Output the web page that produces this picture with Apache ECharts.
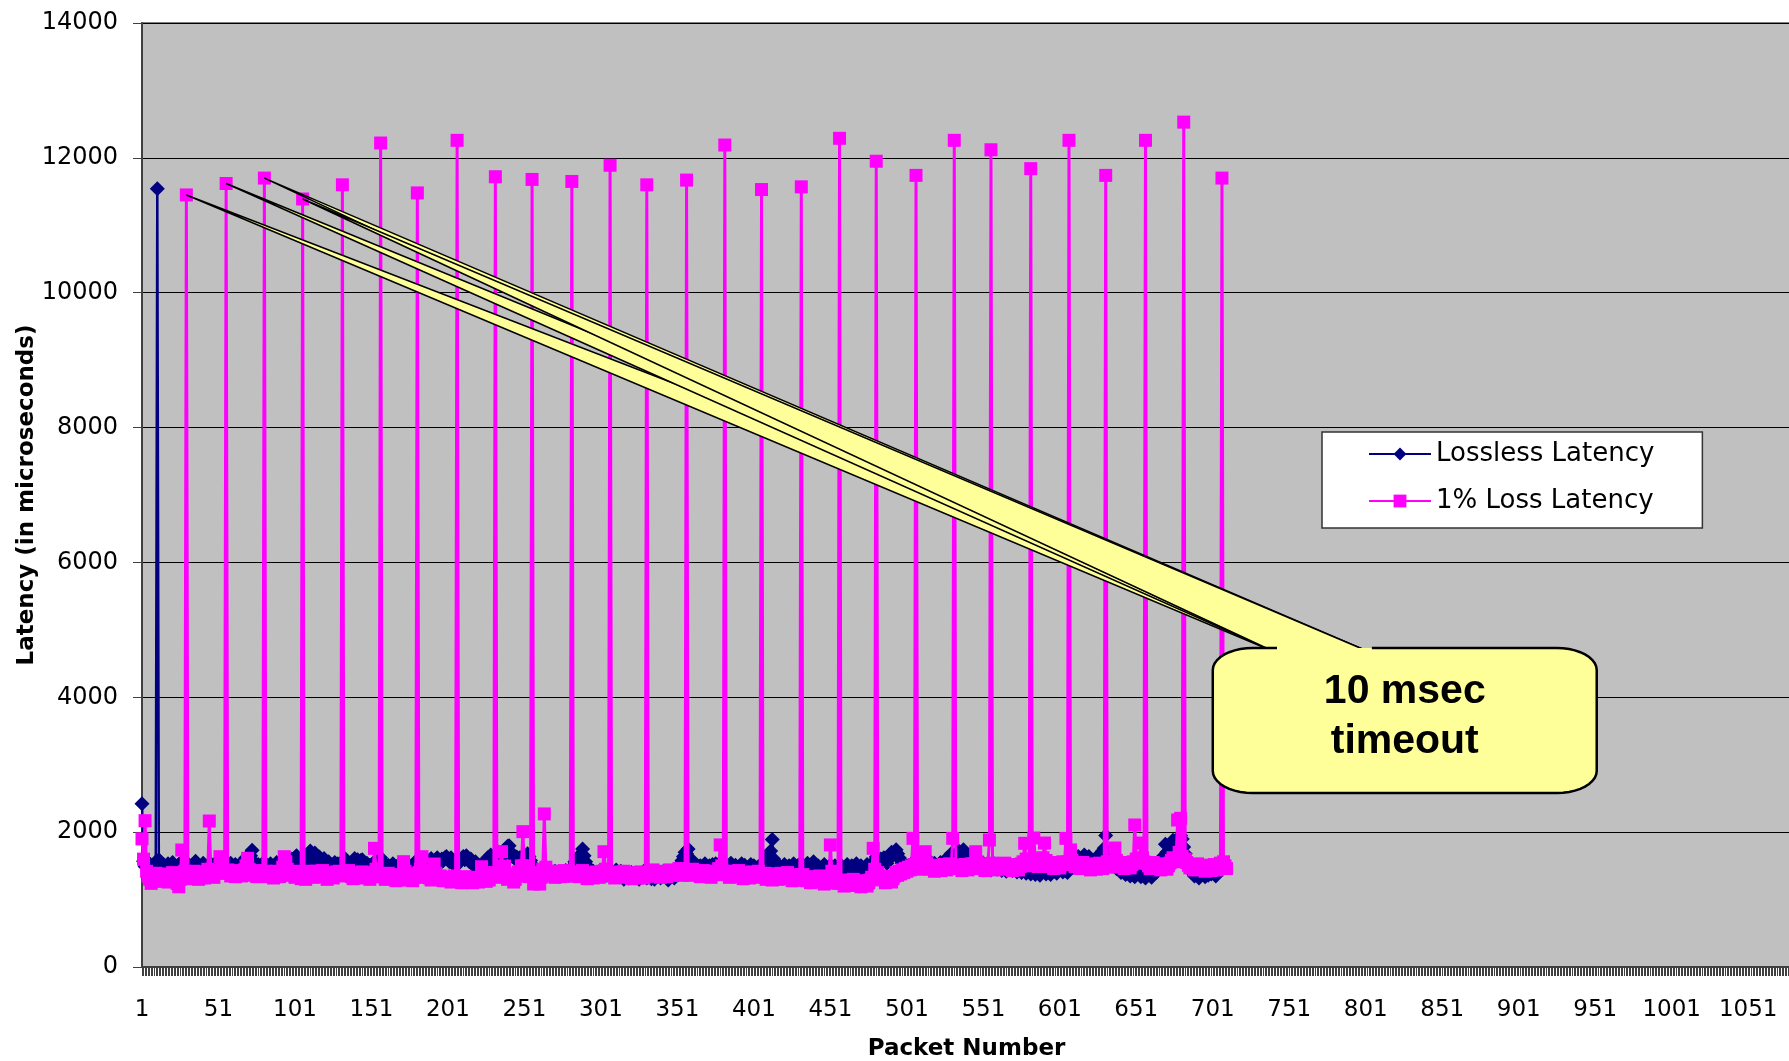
<!DOCTYPE html>
<html>
<head>
<meta charset="utf-8">
<title>Packet Latency</title>
<script src="https://cdn.jsdelivr.net/npm/echarts@6/dist/echarts.min.js"></script>
<style>
  html, body { margin: 0; padding: 0; background: #ffffff; }
  #chart { width: 1789px; height: 1061px; }
</style>
</head>
<body>
<div id="chart"></div>
<script>
// Category axis: packet numbers 1..1079 (labels shown every 50 packets)
const PACKET_SLOTS = 1079;
const packetNumbers = Array.from({ length: PACKET_SLOTS }, (_, i) => String(i + 1));

// Value axis ticks (microseconds)
const latencyTicks = [0, 2000, 4000, 6000, 8000, 10000, 12000, 14000];

const seriesNames = ['Lossless Latency', '1% Loss Latency'];

// Lossless Latency, packets 1..706 (microseconds)
const losslessLatency = [
  2420, 1570, 1490, 1520, 1460, 1530, 1480, 1450, 1510, 1560, 11540, 1590, 1500, 1470, 1520, 1440, 1480, 1530, 1460, 1500, 1550, 1470, 1430, 1490, 1520,
  1480, 1560, 1510, 1450, 1470, 1530, 1500, 1440, 1480, 1520, 1570, 1490, 1460, 1430, 1500, 1540, 1480, 1450, 1510, 1470, 1530, 1490, 1440, 1500, 1560,
  1480, 1520, 1460, 1490, 1530, 1450, 1500, 1470, 1540, 1490, 1460, 1520, 1480, 1440, 1510, 1550, 1470, 1500, 1620, 1530, 1480, 1650, 1730, 1560, 1490,
  1470, 1520, 1460, 1500, 1540, 1480, 1450, 1510, 1470, 1530, 1490, 1460, 1500, 1550, 1480, 1440, 1510, 1470, 1580, 1520, 1490, 1460, 1530, 1600, 1560,
  1620, 1650, 1580, 1530, 1490, 1560, 1600, 1540, 1620, 1680, 1720, 1640, 1580, 1690, 1610, 1550, 1630, 1590, 1570, 1610, 1540, 1500, 1560, 1520, 1480,
  1510, 1550, 1490, 1530, 1470, 1520, 1560, 1590, 1600, 1540, 1500, 1480, 1520, 1570, 1610, 1550, 1590, 1530, 1580, 1590, 1520, 1490, 1540, 1470, 1510,
  1480, 1530, 1560, 1500, 1540, 1590, 1620, 1570, 1520, 1480, 1460, 1510, 1450, 1490, 1530, 1470, 1440, 1500, 1460, 1430, 1480, 1520, 1450, 1410, 1470,
  1500, 1440, 1480, 1520, 1460, 1590, 1560, 1500, 1470, 1430, 1490, 1450, 1520, 1570, 1610, 1560, 1500, 1590, 1620, 1570, 1540, 1600, 1580, 1620, 1640,
  1600, 1560, 1620, 1580, 1530, 1490, 1550, 1600, 1570, 1610, 1640, 1590, 1650, 1620, 1560, 1600, 1540, 1500, 1560, 1520, 1480, 1510, 1470, 1500, 1540,
  1580, 1620, 1600, 1660, 1590, 1550, 1610, 1640, 1700, 1660, 1620, 1680, 1740, 1710, 1790, 1800, 1690, 1640, 1660, 1600, 1630, 1590, 1620, 1580, 1650,
  1620, 1600, 1680, 1640, 1580, 1520, 1470, 1420, 1380, 1400, 1360, 1390, 1350, 1410, 1380, 1430, 1370, 1400, 1360, 1390, 1420, 1380, 1350, 1400, 1370,
  1410, 1380, 1430, 1390, 1360, 1400, 1450, 1500, 1560, 1600, 1540, 1620, 1680, 1750, 1650, 1560, 1500, 1440, 1410, 1380, 1420, 1390, 1350, 1380, 1420,
  1400, 1370, 1430, 1390, 1360, 1410, 1380, 1420, 1350, 1390, 1440, 1400, 1370, 1420, 1380, 1300, 1340, 1380, 1320, 1360, 1400, 1370, 1330, 1390, 1350,
  1300, 1340, 1380, 1420, 1360, 1320, 1390, 1350, 1310, 1370, 1300, 1340, 1390, 1360, 1320, 1380, 1420, 1370, 1330, 1290, 1350, 1400, 1360, 1320, 1380,
  1420, 1470, 1530, 1580, 1640, 1700, 1680, 1750, 1620, 1560, 1500, 1540, 1480, 1510, 1470, 1500, 1450, 1490, 1530, 1480, 1440, 1500, 1460, 1520, 1490,
  1530, 1480, 1510, 1550, 1500, 1470, 1520, 1480, 1450, 1500, 1540, 1490, 1460, 1510, 1480, 1440, 1500, 1530, 1470, 1510, 1480, 1450, 1490, 1520, 1470,
  1500, 1460, 1430, 1490, 1450, 1410, 1470, 1520, 1560, 1610, 1660, 1720, 1890, 1600, 1540, 1500, 1460, 1490, 1450, 1480, 1520, 1470, 1440, 1500, 1460,
  1490, 1530, 1480, 1450, 1510, 1470, 1430, 1490, 1460, 1500, 1540, 1480, 1450, 1510, 1560, 1520, 1470, 1500, 1460, 1430, 1490, 1520, 1470, 1440, 1480,
  1510, 1470, 1440, 1500, 1460, 1420, 1480, 1510, 1470, 1430, 1490, 1520, 1480, 1450, 1500, 1460, 1490, 1530, 1480, 1450, 1500, 1460, 1420, 1480, 1520,
  1470, 1440, 1500, 1540, 1580, 1630, 1590, 1550, 1600, 1560, 1620, 1580, 1540, 1600, 1650, 1700, 1660, 1690, 1740, 1680, 1620, 1580, 1540, 1500, 1470,
  1500, 1460, 1490, 1530, 1480, 1510, 1470, 1500, 1540, 1490, 1520, 1560, 1510, 1480, 1530, 1570, 1520, 1490, 1540, 1500, 1470, 1520, 1550, 1500, 1530,
  1570, 1610, 1560, 1620, 1680, 1640, 1590, 1630, 1680, 1720, 1660, 1700, 1740, 1690, 1640, 1600, 1560, 1520, 1560, 1510, 1480, 1530, 1500, 1460, 1510,
  1540, 1490, 1460, 1510, 1470, 1440, 1500, 1530, 1480, 1450, 1510, 1470, 1430, 1490, 1460, 1420, 1480, 1510, 1460, 1430, 1490, 1450, 1410, 1470, 1440,
  1400, 1460, 1430, 1390, 1450, 1420, 1380, 1440, 1410, 1370, 1430, 1400, 1360, 1420, 1450, 1410, 1380, 1440, 1400, 1370, 1430, 1460, 1420, 1390, 1450,
  1480, 1440, 1410, 1470, 1430, 1400, 1460, 1500, 1540, 1580, 1620, 1590, 1640, 1600, 1560, 1620, 1660, 1610, 1580, 1640, 1600, 1560, 1520, 1560, 1610,
  1650, 1600, 1680, 1720, 1760, 1950, 1700, 1660, 1620, 1580, 1540, 1500, 1460, 1490, 1440, 1400, 1450, 1410, 1370, 1430, 1390, 1350, 1410, 1380, 1340,
  1390, 1430, 1380, 1340, 1400, 1360, 1320, 1380, 1420, 1370, 1330, 1390, 1440, 1400, 1450, 1500, 1550, 1600, 1650, 1820, 1700, 1660, 1720, 1780, 1880,
  1830, 1780, 1860, 1920, 1950, 1900, 1780, 1680, 1600, 1540, 1480, 1430, 1390, 1350, 1400, 1360, 1320, 1380, 1420, 1370, 1340, 1400, 1360, 1420, 1380,
  1440, 1390, 1350, 1410, 1470, 1520
];

// 1% Loss Latency, packets 1..710 (microseconds); tall values are retransmissions after the timeout
const lossLatency = [
  1900, 1600, 2170, 1420, 1350, 1300, 1240, 1280, 1330, 1390, 1350, 1300, 1270, 1320, 1380, 1340, 1290, 1260, 1310, 1360, 1400, 1330, 1280, 1240, 1190,
  1300, 1735, 1380, 1420, 11450, 1400, 1350, 1310, 1370, 1420, 1380, 1330, 1300, 1360, 1410, 1370, 1320, 1380, 1450, 2165, 1430, 1370, 1330, 1390, 1440,
  1400, 1636, 1450, 1390, 1420, 11620, 1440, 1390, 1350, 1410, 1380, 1340, 1390, 1430, 1380, 1350, 1400, 1440, 1500, 1612, 1450, 1390, 1360, 1410, 1370,
  1340, 1390, 1430, 1370, 1400, 11700, 1420, 1370, 1340, 1390, 1360, 1320, 1380, 1420, 1370, 1340, 1400, 1480, 1636, 1560, 1450, 1400, 1360, 1410, 1370,
  1330, 1380, 1420, 1360, 1310, 11390, 1350, 1300, 1340, 1390, 1420, 1370, 1330, 1380, 1420, 1370, 1340, 1390, 1430, 1380, 1340, 1300, 1360, 1400, 1350,
  1320, 1370, 1410, 1360, 1420, 1380, 11600, 1400, 1350, 1390, 1430, 1380, 1340, 1310, 1360, 1400, 1350, 1320, 1370, 1410, 1360, 1330, 1380, 1340, 1300,
  1350, 1400, 1760, 1450, 1380, 1340, 12220, 1380, 1340, 1300, 1350, 1390, 1340, 1310, 1360, 1320, 1280, 1330, 1370, 1320, 1290, 1562, 1420, 1350, 1310,
  1360, 1320, 1280, 1330, 1380, 11480, 1400, 1450, 1636, 1440, 1380, 1330, 1370, 1320, 1290, 1340, 1527, 1390, 1340, 1300, 1350, 1310, 1280, 1320, 1290,
  1330, 1290, 1260, 1310, 1350, 1300, 12260, 1320, 1280, 1250, 1300, 1340, 1290, 1260, 1310, 1280, 1250, 1300, 1330, 1290, 1260, 1310, 1487, 1350, 1300,
  1270, 1320, 1290, 1350, 1400, 1360, 11720, 1390, 1330, 1450, 1710, 1480, 1497, 1350, 1300, 1330, 1380, 1340, 1260, 1300, 1350, 1410, 1380, 1500, 2007,
  1500, 1420, 1380, 1340, 1390, 11680, 1231, 1350, 1400, 1370, 1230, 1330, 1450, 2270, 1480, 1420, 1380, 1350, 1400, 1370, 1330, 1380, 1420, 1370, 1340,
  1390, 1430, 1380, 1350, 1400, 1370, 11650, 1390, 1350, 1410, 1380, 1340, 1390, 1430, 1380, 1350, 1310, 1360, 1400, 1350, 1320, 1370, 1410, 1360, 1330,
  1380, 1420, 1710, 1450, 1390, 1360, 11890, 1400, 1360, 1320, 1370, 1410, 1360, 1330, 1380, 1420, 1370, 1340, 1390, 1350, 1310, 1360, 1400, 1350, 1320,
  1370, 1410, 1360, 1320, 1380, 11600, 1390, 1350, 1400, 1440, 1390, 1350, 1410, 1370, 1330, 1380, 1420, 1370, 1340, 1390, 1440, 1400, 1360, 1410, 1370,
  1420, 1460, 1400, 1360, 1410, 1380, 11670, 1400, 1360, 1410, 1450, 1400, 1370, 1420, 1380, 1340, 1390, 1430, 1380, 1350, 1400, 1370, 1330, 1380, 1420,
  1370, 1410, 1460, 1810, 1500, 1420, 12190, 1410, 1370, 1330, 1380, 1420, 1370, 1340, 1390, 1430, 1380, 1350, 1310, 1360, 1400, 1350, 1320, 1370, 1410,
  1360, 1330, 1380, 1420, 1370, 11530, 1390, 1350, 1300, 1340, 1380, 1330, 1290, 1340, 1380, 1330, 1300, 1350, 1390, 1340, 1310, 1360, 1400, 1350, 1320,
  1280, 1330, 1370, 1320, 1290, 1340, 11570, 1370, 1320, 1280, 1330, 1290, 1250, 1300, 1340, 1290, 1260, 1310, 1350, 1300, 1270, 1230, 1280, 1320, 1270,
  1810, 1420, 1300, 1250, 1290, 1240, 12290, 1280, 1240, 1200, 1250, 1290, 1240, 1210, 1260, 1300, 1250, 1220, 1270, 1230, 1190, 1240, 1280, 1230, 1200,
  1250, 1290, 1330, 1760, 1450, 11950, 1400, 1350, 1300, 1340, 1290, 1250, 1300, 1340, 1290, 1260, 1310, 1350, 1400, 1360, 1420, 1380, 1440, 1400, 1460,
  1420, 1480, 1440, 1500, 1908, 1520, 11740, 1480, 1450, 1500, 1460, 1520, 1710, 1540, 1490, 1450, 1500, 1460, 1420, 1470, 1510, 1470, 1430, 1480, 1520,
  1480, 1440, 1490, 1530, 1490, 1908, 12260, 1500, 1460, 1510, 1470, 1430, 1480, 1520, 1480, 1440, 1490, 1530, 1490, 1530, 1710, 1560, 1500, 1460, 1510,
  1470, 1430, 1490, 1530, 1884, 12120, 1540, 1480, 1440, 1490, 1530, 1490, 1450, 1500, 1540, 1500, 1460, 1510, 1470, 1430, 1480, 1520, 1480, 1440, 1490,
  1530, 1560, 1834, 1600, 1540, 1500, 11840, 1550, 1913, 1600, 1540, 1490, 1530, 1570, 1620, 1838, 1580, 1530, 1490, 1540, 1500, 1460, 1510, 1550, 1510,
  1470, 1520, 1560, 1520, 1908, 1560, 12260, 1736, 1580, 1530, 1490, 1540, 1500, 1460, 1510, 1550, 1510, 1470, 1520, 1480, 1440, 1490, 1530, 1490, 1450,
  1500, 1540, 1500, 1460, 1510, 11740, 1560, 1520, 1480, 1530, 1570, 1765, 1580, 1530, 1490, 1540, 1500, 1460, 1510, 1550, 1510, 1470, 1520, 1560, 2106,
  1600, 1540, 1580, 1838, 1620, 1560, 12260, 1540, 1500, 1460, 1510, 1550, 1510, 1470, 1520, 1480, 1440, 1490, 1530, 1490, 1450, 1500, 1540, 1580, 1620,
  1560, 1600, 2180, 1700, 2205, 1640, 12530, 1600, 1550, 1510, 1470, 1520, 1480, 1440, 1490, 1530, 1490, 1450, 1500, 1460, 1420, 1470, 1510, 1470, 1430,
  1480, 1520, 1480, 1440, 1490, 1540, 11700, 1560, 1500, 1460
];

// Packets whose timeout spikes the callout points at
const calloutPackets = [30, 56, 81, 106];
const calloutLines = ['10 msec', 'timeout'];

const chart = echarts.init(document.getElementById('chart'), null, { renderer: 'canvas' });

const axisFont = 'DejaVu Sans';

chart.setOption({
  animation: false,
  backgroundColor: '#ffffff',
  grid: {
    left: 142, top: 23, right: -2, bottom: 94,
    outerBoundsMode: 'none',
    containLabel: false,
    show: true,
    backgroundColor: '#c0c0c0',
    borderColor: '#808080',
    borderWidth: 2
  },
  legend: {
    data: seriesNames,
    orient: 'vertical',
    left: 1322, top: 432,
    backgroundColor: '#ffffff',
    borderColor: '#333333',
    borderWidth: 1.5,
    borderRadius: 0,
    padding: [9, 48, 14, 46],
    itemGap: 21,
    itemWidth: 62,
    itemHeight: 16,
    lineStyle: { width: 2 },
    textStyle: { fontFamily: axisFont, fontSize: 26, color: '#000000' }
  },
  xAxis: {
    type: 'category',
    data: packetNumbers,
    boundaryGap: false,
    name: 'Packet Number',
    nameLocation: 'middle',
    nameGap: 71,
    nameMoveOverlap: false,
    nameTextStyle: { fontFamily: axisFont, fontSize: 23, fontWeight: 'bold', color: '#000000' },
    axisLine: { show: true, lineStyle: { color: '#404040', width: 2 } },
    axisTick: { show: true, interval: 0, length: 9, lineStyle: { color: '#404040', width: 1 } },
    axisLabel: {
      interval: 49, margin: 32, hideOverlap: false,
      fontFamily: axisFont, fontSize: 23, color: '#000000'
    },
    splitLine: { show: false }
  },
  yAxis: {
    type: 'value',
    min: latencyTicks[0],
    max: latencyTicks[latencyTicks.length - 1],
    interval: latencyTicks[1] - latencyTicks[0],
    name: 'Latency (in microseconds)',
    nameLocation: 'middle',
    nameRotate: 90,
    nameGap: 103,
    nameMoveOverlap: false,
    nameTextStyle: { fontFamily: axisFont, fontSize: 23, fontWeight: 'bold', color: '#000000' },
    axisLine: { show: true, lineStyle: { color: '#404040', width: 2 } },
    axisTick: { show: true, length: 9, lineStyle: { color: '#404040', width: 1 } },
    axisLabel: {
      margin: 24, fontFamily: axisFont, fontSize: 24, color: '#000000',
      formatter: (v) => String(v)
    },
    splitLine: { show: true, lineStyle: { color: '#000000', width: 1 } }
  },
  series: [
    {
      name: seriesNames[0],
      type: 'line',
      data: losslessLatency,
      symbol: 'diamond',
      symbolSize: 15,
      showAllSymbol: true,
      color: '#000080',
      itemStyle: { color: '#000080' },
      lineStyle: { color: '#000080', width: 2.5 },
      z: 2
    },
    {
      name: seriesNames[1],
      type: 'line',
      data: lossLatency,
      symbol: 'rect',
      symbolSize: 13,
      showAllSymbol: true,
      color: '#ff00ff',
      itemStyle: { color: '#ff00ff' },
      lineStyle: { color: '#ff00ff', width: 3 },
      z: 3
    }
  ]
});

// Callout box with pointers to the first timeout spikes
function roundedOutline(x0, y0, x1, y1, rx, ry, gapLeft, gapRight) {
  const pts = [[gapRight, y0]];
  const corner = (cx, cy, a0) => {
    for (let k = 0; k <= 10; k++) {
      const a = a0 + k * Math.PI / 20;
      pts.push([cx + rx * Math.cos(a), cy + ry * Math.sin(a)]);
    }
  };
  corner(x1 - rx, y0 + ry, -Math.PI / 2);
  corner(x1 - rx, y1 - ry, 0);
  corner(x0 + rx, y1 - ry, Math.PI / 2);
  corner(x0 + rx, y0 + ry, Math.PI);
  pts.push([gapLeft, y0]);
  return pts;
}

function drawCallout() {
  const toPx = (idx, v) => chart.convertToPixel({ xAxisIndex: 0, yAxisIndex: 0 }, [idx, v]);
  // box corners and pointer base, in (packet index, microseconds)
  const topLeft = toPx(700, 4731);
  const bottomRight = toPx(951, 2580);
  const baseLeft = toPx(742, 4731)[0];
  const baseRight = toPx(804, 4731)[0];
  const x0 = topLeft[0], y0 = topLeft[1], x1 = bottomRight[0], y1 = bottomRight[1];
  const fill = '#ffff99';

  const elements = [];
  calloutPackets.forEach((p) => {
    const tip = toPx(p - 1, lossLatency[p - 1]);
    elements.push({
      type: 'polygon', z: 100,
      shape: { points: [tip, [baseLeft, y0 + 5], [baseRight, y0 + 5]] },
      style: { fill: fill, stroke: '#000000', lineWidth: 1.5 }
    });
  });
  const outline = roundedOutline(x0, y0, x1, y1, 40, 22, baseLeft, baseRight);
  elements.push({
    type: 'polygon', z: 101,
    shape: { points: outline },
    style: { fill: fill, stroke: null }
  });
  elements.push({
    type: 'polyline', z: 102,
    shape: { points: outline },
    style: { fill: null, stroke: '#000000', lineWidth: 2.5 }
  });
  const cx = (x0 + x1) / 2;
  calloutLines.forEach((line, i) => {
    elements.push({
      type: 'text', z: 103,
      x: cx, y: y0 + 44 + i * 50,
      style: {
        text: line,
        font: 'bold 41px "Liberation Sans", Arial, sans-serif',
        fill: '#000000',
        align: 'center',
        verticalAlign: 'middle'
      }
    });
  });
  chart.setOption({ graphic: { elements: elements } });
}

drawCallout();
</script>
</body>
</html>
